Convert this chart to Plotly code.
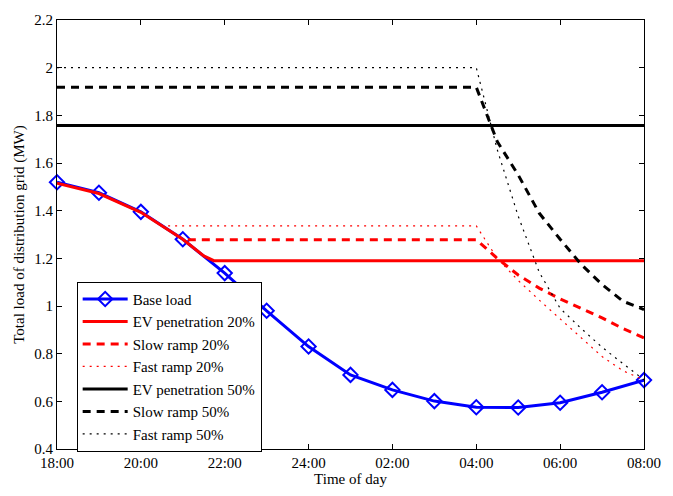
import plotly.graph_objects as go

# hours after 18:00
hours = list(range(0, 15))
x_tick_vals = [0, 2, 4, 6, 8, 10, 12, 14]
x_tick_text = ["18:00", "20:00", "22:00", "24:00", "02:00", "04:00", "06:00", "08:00"]
y_tick_vals = [0.4, 0.6, 0.8, 1.0, 1.2, 1.4, 1.6, 1.8, 2.0, 2.2]
y_tick_text = ["0.4", "0.6", "0.8", "1", "1.2", "1.4", "1.6", "1.8", "2", "2.2"]

base_load = [1.519, 1.475, 1.395, 1.28, 1.138, 0.98, 0.83, 0.711, 0.648, 0.601,
             0.575, 0.574, 0.594, 0.638, 0.689]

ev20_x = [0, 1, 2, 3, 3.5, 3.74, 5, 6, 7, 8, 9, 10, 11, 12, 13, 14]
ev20_y = [1.515, 1.472, 1.393, 1.28, 1.21, 1.19, 1.19, 1.19, 1.192, 1.19, 1.19,
          1.192, 1.19, 1.19, 1.19, 1.19]

slow20_x = [3.12, 10, 10.5, 11, 11.5, 12, 12.5, 13, 13.5, 14]
slow20_y = [1.278, 1.278, 1.20, 1.13, 1.075, 1.03, 0.99, 0.95, 0.905, 0.866]

fast20_x = [2.65, 10, 10.5, 11, 11.5, 12, 12.5, 13, 13.5, 14]
fast20_y = [1.336, 1.336, 1.20, 1.107, 1.025, 0.946, 0.867, 0.788, 0.728, 0.69]

ev50_x = [0, 14]
ev50_y = [1.757, 1.757]

slow50_x = [0, 10, 10.5, 11, 11.5, 12, 12.5, 13, 13.5, 14]
slow50_y = [1.918, 1.918, 1.69, 1.55, 1.39, 1.28, 1.175, 1.09, 1.02, 0.985]

fast50_x = [0, 10, 10.5, 11, 11.5, 12, 12.5, 13, 13.5, 14]
fast50_y = [2.0, 2.0, 1.656, 1.377, 1.142, 0.99, 0.906, 0.827, 0.758, 0.69]

FONT = "Liberation Serif, Times New Roman, serif"

fig = go.Figure()
fig.add_trace(go.Scatter(x=hours, y=base_load, name="Base load", mode="lines+markers",
                         cliponaxis=False,
                         line=dict(color="#0000ff", width=3),
                         marker=dict(symbol="diamond-open", size=11, color="#0000ff",
                                     line=dict(width=2, color="#0000ff"))))
fig.add_trace(go.Scatter(x=ev20_x, y=ev20_y, name="EV penetration 20%", mode="lines",
                         line=dict(color="#ff0000", width=3)))
fig.add_trace(go.Scatter(x=slow20_x, y=slow20_y, name="Slow ramp 20%", mode="lines",
                         line=dict(color="#ff0000", width=3, dash="8px,6px")))
fig.add_trace(go.Scatter(x=fast20_x, y=fast20_y, name="Fast ramp 20%", mode="lines",
                         line=dict(color="#ff0000", width=1.2, dash="2px,5px")))
fig.add_trace(go.Scatter(x=ev50_x, y=ev50_y, name="EV penetration 50%", mode="lines",
                         line=dict(color="#000000", width=3)))
fig.add_trace(go.Scatter(x=slow50_x, y=slow50_y, name="Slow ramp 50%", mode="lines",
                         line=dict(color="#000000", width=3, dash="8px,6px")))
fig.add_trace(go.Scatter(x=fast50_x, y=fast50_y, name="Fast ramp 50%", mode="lines",
                         line=dict(color="#000000", width=1.2, dash="2px,5px")))

axis_common = dict(showline=True, linecolor="black", linewidth=1, mirror="ticks",
                   ticks="inside", ticklen=5, tickcolor="black", showgrid=False,
                   zeroline=False, tickfont=dict(family=FONT, size=15, color="black"))

fig.update_layout(
    width=673, height=496,
    margin=dict(l=57, r=19, t=20, b=40),
    paper_bgcolor="white", plot_bgcolor="white",
    font=dict(family=FONT, color="black"),
    showlegend=True,
    legend=dict(x=0.0335, y=0.39, xanchor="left", yanchor="top",
                bgcolor="white", bordercolor="black", borderwidth=1,
                font=dict(family=FONT, size=15, color="black"),
                itemwidth=45, tracegroupgap=0),
    xaxis=dict(range=[0, 14], tickvals=x_tick_vals, ticktext=x_tick_text,
               title=dict(text="Time of day", font=dict(family=FONT, size=15), standoff=2),
               **axis_common),
    yaxis=dict(range=[0.4, 2.2], tickvals=y_tick_vals, ticktext=y_tick_text,
               title=dict(text="Total load of distribution grid (MW)",
                          font=dict(family=FONT, size=15), standoff=6),
               **axis_common),
)

fig.write_html("out.html")
